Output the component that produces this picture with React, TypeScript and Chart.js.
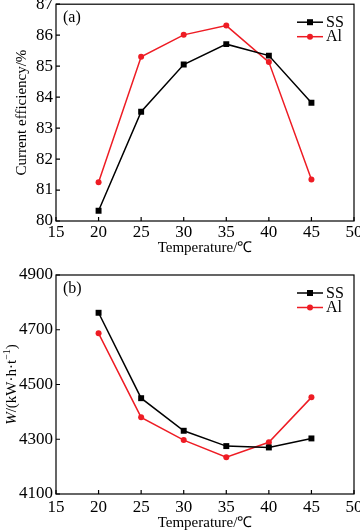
import React, { useEffect, useRef } from 'react';
import { Chart, registerables } from 'chart.js';

Chart.register(...registerables);

// ---- Data ----
const temperatures = [20, 25, 30, 35, 40, 45];
const efficiencySS = [80.33, 83.53, 85.05, 85.71, 85.34, 83.82];
const efficiencyAl = [81.25, 85.3, 86.01, 86.31, 85.13, 81.34];
const energySS = [4762, 4450, 4331, 4275, 4270, 4303];
const energyAl = [4687, 4380, 4297, 4234, 4289, 4453];
const xTickValues = [15, 20, 25, 30, 35, 40, 45, 50];
const efficiencyTicks = [80, 81, 82, 83, 84, 85, 86, 87];
const energyTicks = [4100, 4300, 4500, 4700, 4900];
const seriesLabels = ['SS', 'Al'];
const xTitle = 'Temperature/℃';

const FONT = '"Liberation Serif", "Times New Roman", serif';
const BLACK = '#000000';
const RED = '#ee1c24';

type TitlePart = { text: string; italic?: boolean; sup?: boolean };

const framePlugin = {
  id: 'frame',
  afterDraw(chart: any, _args: any, opts: any) {
    const { ctx, chartArea: a, scales } = chart;
    const xs = scales.x;
    const ys = scales.y;
    ctx.save();
    // box
    ctx.strokeStyle = BLACK;
    ctx.lineWidth = 1.2;
    ctx.strokeRect(a.left, a.top, a.right - a.left, a.bottom - a.top);
    // inward ticks
    ctx.beginPath();
    xs.ticks.forEach((t: any) => {
      const px = xs.getPixelForValue(t.value);
      ctx.moveTo(px, a.bottom);
      ctx.lineTo(px, a.bottom - 4);
    });
    ys.ticks.forEach((t: any) => {
      const py = ys.getPixelForValue(t.value);
      ctx.moveTo(a.left, py);
      ctx.lineTo(a.left + 4, py);
    });
    ctx.stroke();

    // panel label
    ctx.fillStyle = BLACK;
    ctx.font = `16px ${FONT}`;
    ctx.textBaseline = 'middle';
    ctx.textAlign = 'left';
    ctx.fillText(opts.panel, a.left + 7, a.top + 14);

    // legend
    chart.data.datasets.forEach((ds: any, i: number) => {
      const ly = a.top + 18 + i * 14.5;
      const lx0 = a.right - 57;
      const lx1 = a.right - 31;
      ctx.strokeStyle = ds.borderColor;
      ctx.lineWidth = 1.5;
      ctx.beginPath();
      ctx.moveTo(lx0, ly);
      ctx.lineTo(lx1, ly);
      ctx.stroke();
      const mx = (lx0 + lx1) / 2;
      ctx.fillStyle = ds.borderColor;
      if (ds.pointStyle === 'rect') {
        ctx.fillRect(mx - 3, ly - 3, 6, 6);
      } else {
        ctx.beginPath();
        ctx.arc(mx, ly, 3, 0, Math.PI * 2);
        ctx.fill();
      }
      ctx.fillStyle = BLACK;
      ctx.font = `16px ${FONT}`;
      ctx.fillText(ds.label, a.right - 28, ly + 0.5);
    });

    // x title
    ctx.textAlign = 'center';
    ctx.textBaseline = 'middle';
    ctx.font = `15px ${FONT}`;
    ctx.fillText(opts.xTitle, (a.left + a.right) / 2, a.bottom + opts.xTitleOffset);

    // y title (rotated, mixed styles)
    const parts: TitlePart[] = opts.yTitle;
    const fontFor = (p: TitlePart) =>
      `${p.italic ? 'italic ' : ''}${p.sup ? 10 : 15}px ${FONT}`;
    let total = 0;
    parts.forEach((p) => {
      ctx.font = fontFor(p);
      total += ctx.measureText(p.text).width;
    });
    ctx.translate(opts.yTitleX, (a.top + a.bottom) / 2);
    ctx.rotate(-Math.PI / 2);
    ctx.textAlign = 'left';
    ctx.textBaseline = 'alphabetic';
    let cx = -total / 2;
    parts.forEach((p) => {
      ctx.font = fontFor(p);
      ctx.fillText(p.text, cx, p.sup ? 5 - 6 : 5);
      cx += ctx.measureText(p.text).width;
    });
    ctx.restore();
  },
};

function makeConfig(p: {
  ss: number[];
  al: number[];
  yMin: number;
  yMax: number;
  yTicks: number[];
  padTop: number;
  xLabelPad: number;
  panel: string;
  yTitle: TitlePart[];
  yTitleX: number;
  xTitleOffset: number;
}): any {
  return {
    type: 'line',
    data: {
      datasets: [
        {
          label: seriesLabels[0],
          data: temperatures.map((t, i) => ({ x: t, y: p.ss[i] })),
          borderColor: BLACK,
          backgroundColor: BLACK,
          borderWidth: 1.5,
          pointStyle: 'rect',
          pointRadius: 4.2,
          pointBorderWidth: 0,
          tension: 0,
        },
        {
          label: seriesLabels[1],
          data: temperatures.map((t, i) => ({ x: t, y: p.al[i] })),
          borderColor: RED,
          backgroundColor: RED,
          borderWidth: 1.5,
          pointStyle: 'circle',
          pointRadius: 3,
          pointBorderWidth: 0,
          tension: 0,
        },
      ],
    },
    options: {
      responsive: false,
      animation: false,
      layout: { padding: { top: p.padTop, right: 6, left: 0, bottom: 0 } },
      plugins: {
        legend: { display: false },
        tooltip: { enabled: false },
        frame: {
          panel: p.panel,
          yTitle: p.yTitle,
          yTitleX: p.yTitleX,
          xTitle: xTitle,
          xTitleOffset: p.xTitleOffset,
        },
      },
      scales: {
        x: {
          type: 'linear',
          min: 15,
          max: 50,
          afterBuildTicks: (s: any) => {
            s.ticks = xTickValues.map((v) => ({ value: v }));
          },
          afterFit: (s: any) => {
            s.height = 37;
            s.paddingLeft = 0;
            s.paddingRight = 0;
          },
          grid: { display: false, drawTicks: false },
          border: { display: false },
          ticks: {
            padding: p.xLabelPad,
            color: BLACK,
            font: { family: FONT, size: 17 },
            maxRotation: 0,
            autoSkip: false,
            callback: (v: any) => String(v),
          },
        },
        y: {
          type: 'linear',
          min: p.yMin,
          max: p.yMax,
          afterBuildTicks: (s: any) => {
            s.ticks = p.yTicks.map((v) => ({ value: v }));
          },
          afterFit: (s: any) => {
            s.width = 56;
            s.paddingTop = 0;
            s.paddingBottom = 0;
          },
          grid: { display: false, drawTicks: false },
          border: { display: false },
          ticks: {
            padding: 3,
            color: BLACK,
            font: { family: FONT, size: 17 },
            autoSkip: false,
            callback: (v: any) => String(v),
          },
        },
      },
    },
    plugins: [framePlugin],
  };
}

function ChartPanel(props: { height: number; config: any }) {
  const ref = useRef<HTMLCanvasElement | null>(null);
  useEffect(() => {
    if (!ref.current) return;
    const chart = new Chart(ref.current, props.config);
    return () => chart.destroy();
  }, []);
  return (
    <canvas
      ref={ref}
      width={360}
      height={props.height}
      style={{ display: 'block', width: 360, height: props.height }}
    />
  );
}

export default function App() {
  const topConfig = makeConfig({
    ss: efficiencySS,
    al: efficiencyAl,
    yMin: 80,
    yMax: 87,
    yTicks: efficiencyTicks,
    padTop: 4,
    xLabelPad: 1,
    panel: '(a)',
    yTitle: [{ text: 'Current efficiency/%' }],
    yTitleX: 21,
    xTitleOffset: 27,
  });
  const bottomConfig = makeConfig({
    ss: energySS,
    al: energyAl,
    yMin: 4100,
    yMax: 4900,
    yTicks: energyTicks,
    padTop: 17,
    xLabelPad: 3,
    panel: '(b)',
    yTitle: [
      { text: 'W', italic: true },
      { text: '/(kW·h·t' },
      { text: '−1', sup: true },
      { text: ')' },
    ],
    yTitleX: 11,
    xTitleOffset: 29,
  });
  return (
    <div
      style={{
        position: 'fixed',
        left: 0,
        top: 0,
        width: 360,
        height: 531,
        background: '#ffffff',
      }}
    >
      <ChartPanel height={258} config={topConfig} />
      <ChartPanel height={273} config={bottomConfig} />
    </div>
  );
}
